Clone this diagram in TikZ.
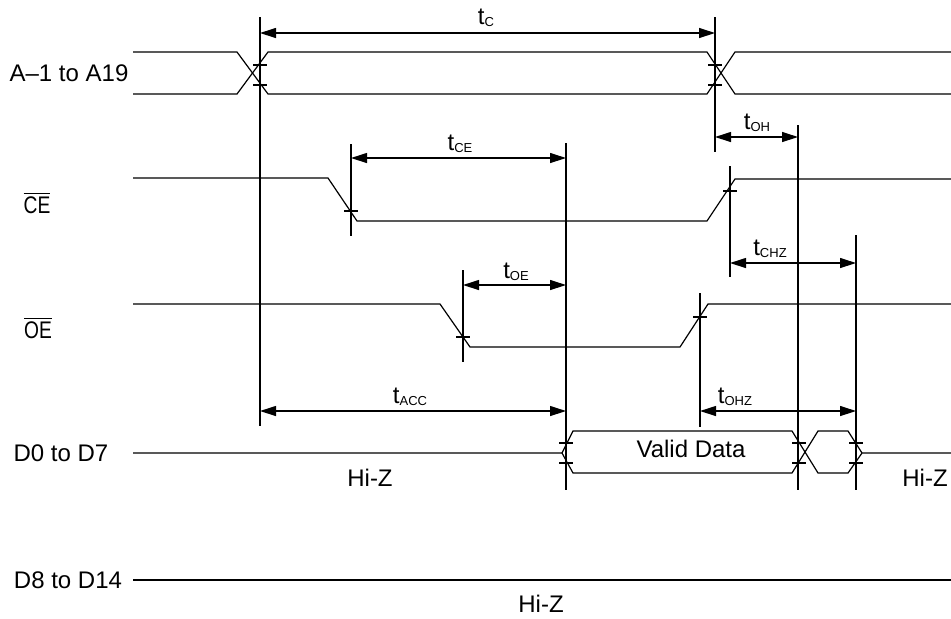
\documentclass[tikz,border=0pt]{standalone}
\usepackage{fontspec}
\setmainfont{Liberation Sans}
\usepackage{tikz}
\usetikzlibrary{arrows.meta}
\tikzset{
  sig/.style={draw=black, line width=0.6pt},
  refline/.style={draw=black, line width=0.6pt},
  dim/.style={draw=black, line width=0.6pt, {Triangle[length=8pt,width=5pt]}-{Triangle[length=8pt,width=5pt]}},
  xmark/.style={draw=black, line width=0.6pt},
  lbl/.style={font=\fontsize{12}{14}\selectfont, inner sep=0pt},
  sublbl/.style={font=\fontsize{12}{14}\selectfont, inner sep=0pt}
}
\newcommand{\tsub}[1]{t\raisebox{-1.2pt}{\fontsize{6.5}{7}\selectfont #1}}
\newcommand{\barlbl}[1]{\scalebox{0.8}[1]{$\overline{\mbox{#1}}$}}

\begin{document}
\begin{tikzpicture}[x=0.5pt, y=-0.5pt]
  \useasboundingbox (0,0) rectangle (951,618);

  % signal names
  \node[lbl] (nA) at (69,73) {A--1 to A19};
  \node[lbl] (nCE) at (37,203) {\barlbl{CE}};
  \node[lbl] (nOE) at (38,328) {\barlbl{OE}};
  \node[lbl] (nDlo) at (61,453) {D0 to D7};
  \node[lbl] (nDhi) at (68,580) {D8 to D14};

  % address bus
  \draw[sig] (133,52) -- (237,52) -- (268,94) -- (707,94) -- (735,52) -- (951,52);
  \draw[sig] (133,94) -- (237,94) -- (268,52) -- (707,52) -- (735,94) -- (951,94);

  % chip enable
  \draw[sig] (133,178) -- (328,178) -- (357,221) -- (707,221) -- (735,179) -- (951,179);

  % output enable
  \draw[sig] (133,304) -- (440,304) -- (470,347) -- (680,347) -- (708,304) -- (951,304);

  % data D0 to D7
  \draw[sig] (133,453) -- (562,453) -- (573,431) -- (792,431) -- (818,473)
    -- (848,473) -- (862,453) -- (951,453);
  \draw[sig] (562,453) -- (573,473) -- (792,473) -- (818,431) -- (848,431) -- (862,453);

  % data D8 to D14
  \draw[sig] (133,580) -- (951,580);

  % reference lines
  \coordinate (tA1) at (260,17);   \coordinate (bA1) at (260,426);
  \coordinate (tA2) at (715,17);   \coordinate (bA2) at (715,152);
  \coordinate (tCE1) at (351,144); \coordinate (bCE1) at (351,236);
  \coordinate (tD1) at (566,143);  \coordinate (bD1) at (566,490);
  \coordinate (tCE2) at (730,166); \coordinate (bCE2) at (730,277);
  \coordinate (tOH) at (798,125);  \coordinate (bOH) at (798,490);
  \coordinate (tOE1) at (463,270); \coordinate (bOE1) at (463,362);
  \coordinate (tHZ) at (856,235);  \coordinate (bHZ) at (856,490);
  \coordinate (tOE2) at (700,293); \coordinate (bOE2) at (700,427);
  \foreach \p in {A1,A2,CE1,D1,CE2,OH,OE1,HZ,OE2}
    \draw[refline] (t\p) -- (b\p);

  % crossing marks
  \foreach \x/\y in {260/65,260/85,715/65,715/85,351/211,463/337,700/317,
                     566/443,566/463,799/443,799/463,856/443,856/463}
    \draw[xmark] (\x-7,\y) -- (\x+7,\y);
  \draw[xmark, line width=1.2pt] (723,191) -- (737,191);

  % timing intervals
  \draw[dim] (260,33) -- (715,33);
  \draw[dim] (715,137) -- (798,137);
  \draw[dim] (351,158) -- (566,158);
  \draw[dim] (730,263) -- (856,263);
  \draw[dim] (463,285) -- (566,285);
  \draw[dim] (260,411) -- (566,411);
  \draw[dim] (700,411) -- (856,411);

  \node[sublbl] (lC) at (486,18) {\tsub{C}};
  \node[sublbl] (lOH) at (757,123) {\tsub{OH}};
  \node[sublbl] (lCE) at (460,144) {\tsub{CE}};
  \node[sublbl] (lCHZ) at (770,249) {\tsub{CHZ}};
  \node[sublbl] (lOE) at (516,272) {\tsub{OE}};
  \node[sublbl] (lACC) at (410,397) {\tsub{ACC}};
  \node[sublbl] (lOHZ) at (735,397) {\tsub{OHZ}};

  % bus contents
  \node[lbl] (vd) at (691,449) {Valid Data};
  \node[lbl] (hz1) at (370,478) {Hi-Z};
  \node[lbl] (hz2) at (925,478) {Hi-Z};
  \node[lbl] (hz3) at (541,604) {Hi-Z};
\end{tikzpicture}
\end{document}
